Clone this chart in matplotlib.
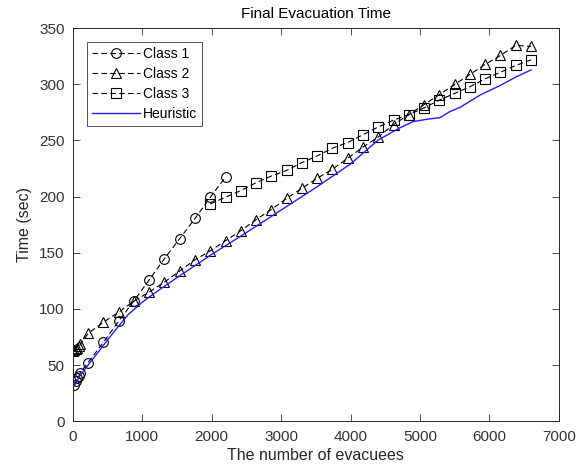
import matplotlib
matplotlib.use("Agg")
import matplotlib.pyplot as plt

plt.rcParams["font.family"] = ["Liberation Sans", "DejaVu Sans"]

# Class 1 (circles)
c1_x = [22, 44, 66, 88, 110, 220, 440, 660, 880, 1100, 1320, 1540, 1760, 1980, 2200]
c1_y = [32.5, 35.5, 38.4, 40.4, 43.4, 52.3, 70.2, 89.1, 107.0, 125.9, 144.8, 162.6, 180.5, 199.4, 217.3]

# Class 2 (triangles)
c2_x = [0, 22, 44, 66, 88, 110, 220, 440, 660, 880, 1100, 1320, 1540, 1760, 1980, 2200,
        2420, 2640, 2860, 3080, 3300, 3520, 3740, 3960, 4180, 4400, 4620, 4840, 5060,
        5280, 5500, 5720, 5940, 6160, 6380, 6600]
c2_y = [62.3, 63.3, 64.3, 65.5, 66.8, 68.5, 78.2, 88.1, 97.1, 107.0, 115.0, 123.9, 133.8,
        143.8, 151.7, 160.7, 169.6, 179.5, 188.5, 198.4, 207.4, 216.3, 224.3, 234.2, 244.1,
        253.1, 264.0, 273.0, 281.9, 290.8, 299.8, 308.7, 317.7, 325.6, 334.6, 333.6]

# Class 3 (squares)
c3_x = [1980, 2200, 2420, 2640, 2860, 3080, 3300, 3520, 3740, 3960, 4180, 4400, 4620,
        4840, 5060, 5280, 5500, 5720, 5940, 6160, 6380, 6600]
c3_y = [193.5, 199.4, 205.4, 212.3, 218.3, 223.3, 230.2, 236.2, 243.1, 248.1, 255.1, 262.0,
        268.0, 273.0, 278.9, 285.9, 291.8, 297.8, 304.8, 310.7, 316.7, 321.7]

# Heuristic (blue line)
h_x = [20, 100, 200, 400, 600, 800, 1000, 1200, 1500, 2000, 2500, 3000, 3500, 4000,
       4400, 4700, 4900, 5100, 5290, 5430, 5580, 5870, 6160, 6390, 6600]
h_y = [31.5, 40.4, 48.4, 64.3, 80.2, 95.1, 106.0, 115.0, 127.9, 148.5, 168.0, 188.0,
       208.0, 229.0, 250.4, 260.8, 266.7, 268.8, 270.3, 275.6, 279.5, 290.5, 299.0, 306.7, 312.7]

fig = plt.figure(figsize=(5.87, 4.75), dpi=100)
ax = fig.add_axes([0.124, 0.113, 0.828, 0.828])

mk = dict(color="black", linestyle=(0, (5, 3)), linewidth=0.8, markersize=7,
          fillstyle="none", markeredgewidth=0.8)
ax.plot(c1_x, c1_y, marker="o", label="Class 1", **mk)
ax.plot(c2_x, c2_y, marker="^", label="Class 2", **mk)
ax.plot(c3_x, c3_y, marker="s", label="Class 3", **mk)
ax.plot(h_x, h_y, color="#1f1fff", linewidth=1.0, label="Heuristic")

ax.set_xlim(0, 7000)
ax.set_ylim(0, 350)
ax.set_xticks(range(0, 7001, 1000))
ax.set_yticks(range(0, 351, 50))
ax.tick_params(direction="in", length=5, width=0.6, labelsize=11, colors="#333333",
               top=True, right=True)
ax.tick_params(axis="x", pad=6)
ax.tick_params(axis="y", pad=6)
for s in ax.spines.values():
    s.set_color("#262626")
    s.set_linewidth(0.7)

ax.set_title("Final Evacuation Time", fontsize=11, color="black", pad=7)
ax.set_xlabel("The number of evacuees", fontsize=11.5, color="#262626", labelpad=3)
ax.set_ylabel("Time (sec)", fontsize=11.5, color="#262626", labelpad=5)

leg = ax.legend(loc="upper left", fontsize=10, frameon=True, fancybox=False,
                edgecolor="#262626", borderaxespad=1.0, handlelength=3.5,
                handletextpad=0.2, labelspacing=0.44, borderpad=0.35)
leg.get_frame().set_linewidth(0.7)

fig.savefig("out.png", dpi=100)
